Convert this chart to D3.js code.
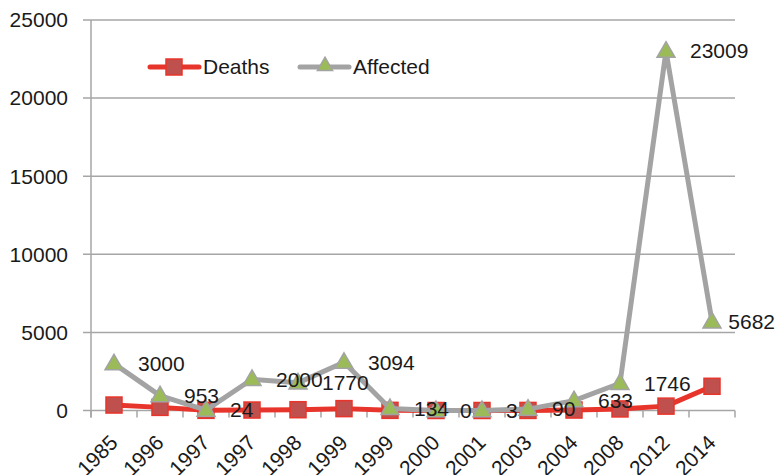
<!DOCTYPE html>
<html><head><meta charset="utf-8">
<script src="https://cdn.jsdelivr.net/npm/d3@7/dist/d3.min.js"></script>
<style>body{margin:0;background:#fff}svg{display:block}text{font-family:"Liberation Sans",Arial,sans-serif;fill:#1a1a1a}</style>
</head><body><svg id="c" width="777" height="475"></svg>
<script>
const categories = ["1985","1996","1997","1997","1998","1999","1999","2000","2001","2003","2004","2008","2012","2014"];
const deaths = [350,200,10,30,50,120,10,0,0,5,30,100,280,1550];
const affected = [3000,953,24,2000,1770,3094,134,0,3,90,633,1746,23009,5682];
const affectedLabels = ["3000","953","24","2000","1770","3094","134","0","3","90","633","1746","23009","5682"];
const yTicks = [0,5000,10000,15000,20000,25000];
const seriesNames = ["Deaths","Affected"];

const svg = d3.select("#c");
const L = 91, R = 735, T = 20, B = 410.5;
const x = d3.scaleBand().domain(d3.range(categories.length)).range([L, R]);
const y = d3.scaleLinear().domain([0, 25000]).range([B, T]);
const cx = i => x(i) + x.bandwidth() / 2;
const grid = "#a6a6a6";

// gridlines
svg.append("g").selectAll("line").data(yTicks).join("line")
  .attr("x1", L - 8).attr("x2", R).attr("y1", d => y(d)).attr("y2", d => y(d))
  .attr("stroke", grid).attr("stroke-width", 1.5);
// y axis line
svg.append("line").attr("x1", L).attr("x2", L).attr("y1", T).attr("y2", B + 7)
  .attr("stroke", grid).attr("stroke-width", 1.5);
// x ticks
svg.append("g").selectAll("line").data(d3.range(categories.length + 1)).join("line")
  .attr("x1", i => L + i * x.bandwidth()).attr("x2", i => L + i * x.bandwidth())
  .attr("y1", B).attr("y2", B + 7).attr("stroke", grid).attr("stroke-width", 1.5);
// y labels
svg.append("g").selectAll("text").data(yTicks).join("text")
  .attr("x", 68).attr("y", d => y(d)).attr("dy", "0.35em").attr("text-anchor", "end")
  .attr("font-size", 21).text(d => d);
// x labels
svg.append("g").selectAll("text").data(categories).join("text")
  .attr("text-anchor", "end").attr("font-size", 21)
  .attr("transform", (d, i) => `translate(${cx(i) + 5},${444}) rotate(-45)`)
  .text(d => d);

const line = d3.line().x((d, i) => cx(i)).y(d => y(d));
const red = "#e8352b", redFill = "#c0504d", gray = "#a3a3a3", green = "#9bbb59";

// Deaths
svg.append("path").datum(deaths).attr("d", line).attr("fill", "none")
  .attr("stroke", red).attr("stroke-width", 5).attr("stroke-linejoin", "round");
svg.append("g").selectAll("rect").data(deaths).join("rect")
  .attr("x", (d, i) => cx(i) - 8).attr("y", d => y(d) - 8).attr("width", 16).attr("height", 16)
  .attr("fill", redFill).attr("stroke", red).attr("stroke-width", 1.5);

// Affected
svg.append("path").datum(affected).attr("d", line).attr("fill", "none")
  .attr("stroke", gray).attr("stroke-width", 5).attr("stroke-linejoin", "round");
const tri = d3.symbol().type(d3.symbolTriangle).size(140);
svg.append("g").selectAll("path").data(affected).join("path")
  .attr("d", tri).attr("transform", (d, i) => `translate(${cx(i)},${y(d) + 1})`)
  .attr("fill", green).attr("stroke", gray).attr("stroke-width", 1.5);

// data labels (kept inside the picture at the right edge)
svg.append("g").selectAll("text").data(affected).join("text")
  .attr("x", (d, i) => cx(i) + 24).attr("y", d => y(d)).attr("dy", "0.35em")
  .attr("font-size", 21).text((d, i) => affectedLabels[i])
  .each(function () {
    const w = this.getComputedTextLength();
    const x0 = +this.getAttribute("x");
    if (x0 + w > 775) this.setAttribute("x", 775 - w);
  });

// legend
const lg = svg.append("g");
lg.append("line").attr("x1", 150).attr("x2", 199).attr("y1", 67).attr("y2", 67)
  .attr("stroke", red).attr("stroke-width", 5).attr("stroke-linecap", "round");
lg.append("rect").attr("x", 166).attr("y", 59).attr("width", 16).attr("height", 16)
  .attr("fill", redFill).attr("stroke", red).attr("stroke-width", 1.5);
lg.append("text").attr("x", 203).attr("y", 67).attr("dy", "0.35em").attr("font-size", 21).text(seriesNames[0]);
lg.append("line").attr("x1", 300).attr("x2", 349).attr("y1", 67).attr("y2", 67)
  .attr("stroke", gray).attr("stroke-width", 5).attr("stroke-linecap", "round");
lg.append("path").attr("d", d3.symbol().type(d3.symbolTriangle).size(100))
  .attr("transform", "translate(325,66)").attr("fill", green).attr("stroke", gray).attr("stroke-width", 1.5);
lg.append("text").attr("x", 353).attr("y", 67).attr("dy", "0.35em").attr("font-size", 21).text(seriesNames[1]);
</script></body></html>
